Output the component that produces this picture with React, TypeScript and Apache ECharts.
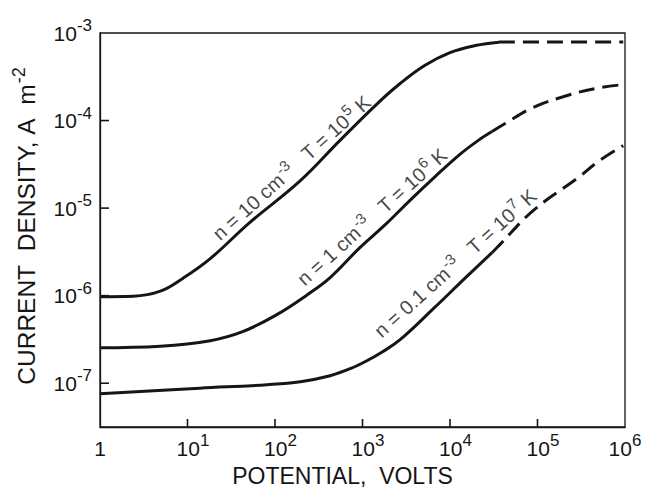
import React, { useEffect, useRef } from 'react';
import * as echarts from 'echarts';

// Values are log10(potential / volts) and log10(current density / A m^-2)
const xTickExps = [0, 1, 2, 3, 4, 5, 6];
const yLabelExps = [-7, -6, -5, -4, -3];
const yTickExps = [-7, -6, -5, -4];
const X_MIN = 0;
const X_MAX = 6;
const Y_MIN = -7.5;
const Y_MAX = -3;

// n = 10 cm^-3, T = 1e5 K
const c1SolidLogV = [0, 0.38, 0.69, 0.95, 1.26, 1.71, 2.29, 2.74, 3.17, 3.43, 3.71, 4.0, 4.29, 4.56];
const c1SolidLogJ = [-6.011, -6.006, -5.949, -5.8, -5.577, -5.166, -4.686, -4.229, -3.806, -3.577, -3.371, -3.223, -3.143, -3.105];
const c1DashLogV = [4.56, 5.26, 5.98];
const c1DashLogJ = [-3.103, -3.103, -3.103];

// n = 1 cm^-3, T = 1e6 K
const c2SolidLogV = [0, 0.69, 1.26, 1.63, 2.02, 2.37, 2.63, 2.97, 3.26, 3.54, 3.83, 4.11, 4.32, 4.48];
const c2SolidLogJ = [-6.594, -6.577, -6.514, -6.411, -6.217, -5.989, -5.794, -5.451, -5.189, -4.914, -4.64, -4.389, -4.229, -4.126];
const c2DashLogV = [4.48, 4.63, 4.95, 5.34, 5.66, 5.98];
const c2DashLogJ = [-4.126, -4.034, -3.851, -3.714, -3.634, -3.589];

// n = 0.1 cm^-3, T = 1e7 K
const c3SolidLogV = [0, 1.14, 1.91, 2.29, 2.63, 2.86, 3.05, 3.23, 3.43, 3.81, 4.19, 4.48];
const c3SolidLogJ = [-7.12, -7.057, -7.017, -6.983, -6.914, -6.834, -6.743, -6.64, -6.503, -6.149, -5.783, -5.509];
const c3DashLogV = [4.48, 4.57, 4.95, 5.45, 5.71, 5.98];
const c3DashLogJ = [-5.509, -5.417, -5.029, -4.663, -4.457, -4.286];

const curveLabelParts = [
  ['n = 10 cm', '-3', '\u00a0\u00a0\u00a0T = 10', '5', ' K'],
  ['n = 1 cm', '-3', '\u00a0\u00a0\u00a0T = 10', '6', ' K'],
  ['n = 0.1 cm', '-3', '\u00a0\u00a0\u00a0T = 10', '7', ' K'],
];

const FONT = '"Liberation Sans", Arial, Helvetica, sans-serif';
const INK = '#151515';

function zip(xs: number[], ys: number[]) {
  return xs.map((x, i) => [x, ys[i]]);
}

export default function App() {
  const ref = useRef<HTMLDivElement>(null);
  useEffect(() => {
    const chart = echarts.init(ref.current!, null, { renderer: 'svg' });

    const lineSeries = (xs: number[], ys: number[], dashed: boolean) => ({
      type: 'line',
      data: zip(xs, ys),
      smooth: 0.4,
      symbol: 'none',
      showSymbol: false,
      silent: true,
      lineStyle: { color: INK, width: 3, type: dashed ? [16, 8] : 'solid', cap: 'butt' },
      z: 3,
    });

    const anchors = [
      [2.19, -4.54],
      [3.11, -5.1],
      [4.06, -5.63],
    ];

    const labelSeries = curveLabelParts.map((p, i) => ({
      type: 'scatter',
      data: [anchors[i]],
      symbol: 'circle',
      symbolSize: 1,
      silent: true,
      itemStyle: { color: 'rgba(0,0,0,0)' },
      label: {
        show: true,
        position: 'inside',
        rotate: 42,
        align: 'center',
        verticalAlign: 'middle',
        formatter: `{t|${p[0]}}{s|${p[1]}}{t|${p[2]}}{s|${p[3]}}{t|${p[4]}}`,
        rich: {
          t: { fontFamily: FONT, fontSize: 20, lineHeight: 22, color: INK },
          s: { fontFamily: FONT, fontSize: 15, lineHeight: 22, color: INK, padding: [0, 0, 13, 1] },
        },
      },
      z: 5,
    }));

    const supStyle = { fontFamily: FONT, fontSize: 17, lineHeight: 20, color: INK, padding: [0, 0, 15, 0] };
    const axisLineStyle = { show: true, lineStyle: { color: INK, width: 1.3 } };

    chart.setOption({
      animation: false,
      backgroundColor: '#ffffff',
      grid: {
        left: 100,
        right: 20,
        top: 33,
        bottom: 62,
        show: true,
        borderColor: INK,
        borderWidth: 1.3,
        containLabel: false,
        outerBoundsMode: 'none',
      },
      xAxis: {
        type: 'value',
        min: X_MIN,
        max: X_MAX,
        interval: 1,
        axisLine: axisLineStyle,
        splitLine: { show: false },
        axisTick: { show: false },
        axisLabel: {
          margin: 11,
          customValues: xTickExps,
          formatter: (v: number) =>
            v === 0 ? '{b|1}' : v === 6 ? `{b|10}{s|${v}}` : `{p|10}{s|${v}}`,
          rich: {
            b: { fontFamily: FONT, fontSize: 21, lineHeight: 20, color: INK },
            p: { fontFamily: FONT, fontSize: 21, lineHeight: 20, color: INK, padding: [0, 0, 0, 11] },
            s: supStyle,
          },
        },
        name: 'POTENTIAL,\u00a0\u00a0VOLTS',
        nameLocation: 'middle',
        nameGap: 36,
        nameMoveOverlap: false,
        nameTextStyle: {
          fontFamily: FONT,
          fontSize: 23,
          lineHeight: 26,
          color: INK,
          padding: [0, 40, 0, 0],
        },
      },
      yAxis: {
        type: 'value',
        min: Y_MIN,
        max: Y_MAX,
        axisLine: axisLineStyle,
        splitLine: { show: false },
        axisTick: { show: false },
        axisLabel: {
          margin: 8,
          customValues: yLabelExps,
          formatter: (v: number) => `{p|10}{s|${v}}`,
          rich: {
            p: { fontFamily: FONT, fontSize: 21, lineHeight: 20, color: INK },
            s: supStyle,
          },
        },
        name: '{a|CURRENT\u00a0\u00a0DENSITY,\u00a0A\u00a0\u00a0m}{s|-2}',
        nameLocation: 'middle',
        nameGap: 61,
        nameMoveOverlap: false,
        nameTextStyle: {
          color: INK,
          padding: [0, 0, 0, 8],
          rich: {
            a: { fontFamily: FONT, fontSize: 24.5, lineHeight: 26, color: INK },
            s: { fontFamily: FONT, fontSize: 18, lineHeight: 26, color: INK, padding: [0, 0, 15, 1] },
          },
        },
      },
      series: [
        lineSeries(c1SolidLogV, c1SolidLogJ, false),
        lineSeries(c1DashLogV, c1DashLogJ, true),
        lineSeries(c2SolidLogV, c2SolidLogJ, false),
        lineSeries(c2DashLogV, c2DashLogJ, true),
        lineSeries(c3SolidLogV, c3SolidLogJ, false),
        lineSeries(c3DashLogV, c3DashLogJ, true),
        ...labelSeries,
      ],
    });

    // inward tick marks, positioned through the grid's own scales
    const toPx = (pt: number[]) => chart.convertToPixel({ gridIndex: 0 }, pt) as number[];
    const tickEls: any[] = [];
    xTickExps
      .filter((v) => v > X_MIN && v < X_MAX)
      .forEach((v) => {
        const p = toPx([v, Y_MIN]);
        tickEls.push({
          type: 'line',
          silent: true,
          z: 10,
          shape: { x1: p[0], y1: p[1], x2: p[0], y2: p[1] - 8 },
          style: { stroke: INK, lineWidth: 1.6 },
        });
      });
    yTickExps.forEach((v) => {
      const p = toPx([X_MIN, v]);
      tickEls.push({
        type: 'line',
        silent: true,
        z: 10,
        shape: { x1: p[0], y1: p[1], x2: p[0] + 9, y2: p[1] },
        style: { stroke: INK, lineWidth: 1.6 },
      });
    });
    chart.setOption({ graphic: { elements: tickEls } });

    return () => chart.dispose();
  }, []);
  return (
    <div
      ref={ref}
      style={{ position: 'fixed', left: 0, top: 0, width: 645, height: 489, background: '#fff' }}
    />
  );
}
